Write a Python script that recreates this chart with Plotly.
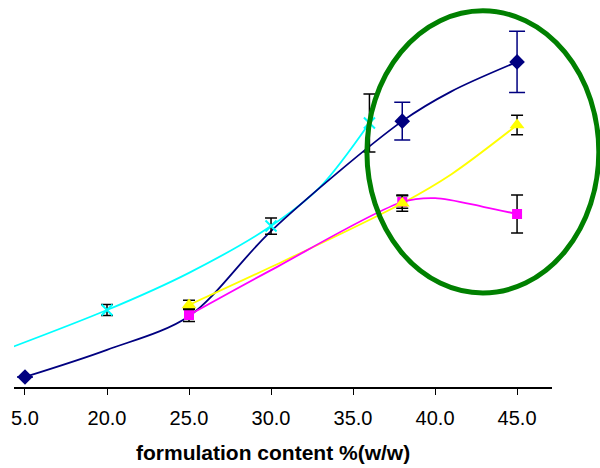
import plotly.graph_objects as go

# ---- data (y in arbitrary units, 0-100; no y axis shown) ----
tick_vals = [15, 20, 25, 30, 35, 40, 45]
tick_text = ["5.0", "20.0", "25.0", "30.0", "35.0", "40.0", "45.0"]

navy_x = [15, 38, 45]
navy_y = [2.6, 68.7, 84.0]
navy_err = [0.0, 4.9, 7.9]
navy_line_x = [15, 20, 25, 30, 38, 41, 45]
navy_line_y = [2.6, 9.6, 18.3, 40.3, 68.7, 76.4, 84.0]

cyan_x = [20, 30, 36]
cyan_y = [19.9, 41.6, 68.2]
cyan_err = [1.4, 2.1, 7.5]
cyan_line_x = [10, 20, 25, 30, 33, 36]
cyan_line_y = [3.6, 19.9, 29.5, 41.6, 51.7, 68.2]

yellow_x = [25, 38, 45]
yellow_y = [21.2, 47.5, 67.7]
yellow_err = [1.2, 2.1, 2.5]
yellow_line_x = [25, 30, 38, 41, 45]
yellow_line_y = [21.2, 31.0, 47.5, 55.0, 67.7]

magenta_x = [25, 38, 45]
magenta_y = [18.6, 47.8, 44.7]
magenta_err = [1.7, 1.6, 4.9]
magenta_line_x = [25, 30, 38, 40, 43, 45]
magenta_line_y = [18.6, 30.2, 47.8, 48.8, 46.5, 44.7]

x_title = "formulation content %(w/w)"

NAVY = "#000080"
CYAN = "#00FFFF"
YELLOW = "#FFFF00"
MAGENTA = "#FF00FF"

fig = go.Figure()

# smoothed lines
for lx, ly, col in [(cyan_line_x, cyan_line_y, CYAN),
                    (navy_line_x, navy_line_y, NAVY),
                    (yellow_line_x, yellow_line_y, YELLOW),
                    (magenta_line_x, magenta_line_y, MAGENTA)]:
    fig.add_trace(go.Scatter(x=lx, y=ly, mode="lines",
                             line=dict(color=col, width=1.8, shape="spline", smoothing=0.9),
                             hoverinfo="skip", showlegend=False))

# markers with error bars
fig.add_trace(go.Scatter(x=cyan_x, y=cyan_y, mode="markers",
                         marker=dict(symbol="x-thin-open", size=11, color=CYAN,
                                     line=dict(color=CYAN, width=2)),
                         error_y=dict(type="data", array=cyan_err, color="black",
                                      thickness=1.5, width=6),
                         showlegend=False))
fig.add_trace(go.Scatter(x=navy_x, y=navy_y, mode="markers",
                         marker=dict(symbol="diamond", size=12, color=NAVY),
                         error_y=dict(type="data", array=navy_err, color=NAVY,
                                      thickness=1.5, width=8),
                         showlegend=False))
fig.add_trace(go.Scatter(x=magenta_x, y=magenta_y, mode="markers",
                         marker=dict(symbol="square", size=10, color=MAGENTA),
                         error_y=dict(type="data", array=magenta_err, color="black",
                                      thickness=1.5, width=6),
                         showlegend=False))
fig.add_trace(go.Scatter(x=yellow_x, y=yellow_y, mode="markers",
                         marker=dict(symbol="triangle-up", size=13, color=YELLOW),
                         error_y=dict(type="data", array=yellow_err, color="black",
                                      thickness=1.5, width=6),
                         showlegend=False))

# green highlight ellipse
fig.add_shape(type="circle", xref="paper", yref="paper",
              x0=0.656, x1=1.087, y0=0.243, y1=0.972,
              line=dict(color="#008000", width=5), layer="above")

fig.add_annotation(text=x_title, xref="paper", yref="paper",
                   x=0.4805, y=-0.17, xanchor="center", yanchor="middle",
                   showarrow=False,
                   font=dict(family="Liberation Sans, Arial", size=21, color="black", weight="bold"))

fig.update_layout(
    width=600, height=468,
    margin=dict(l=14, r=48, t=0, b=81),
    paper_bgcolor="white", plot_bgcolor="white",
    showlegend=False,
    font=dict(family="Liberation Sans, Arial", color="black"),
    xaxis=dict(range=[14.33, 47.13], tickmode="array", tickvals=tick_vals,
               ticktext=tick_text, ticks="outside", ticklen=6, tickcolor="black",
               tickwidth=1, showline=True, linecolor="black", linewidth=1.5,
               showgrid=False, zeroline=False, tickfont=dict(size=20),
               ticklabelstandoff=6),
    yaxis=dict(range=[0, 100], visible=False, showgrid=False, zeroline=False),
)

fig.write_html("out.html")
